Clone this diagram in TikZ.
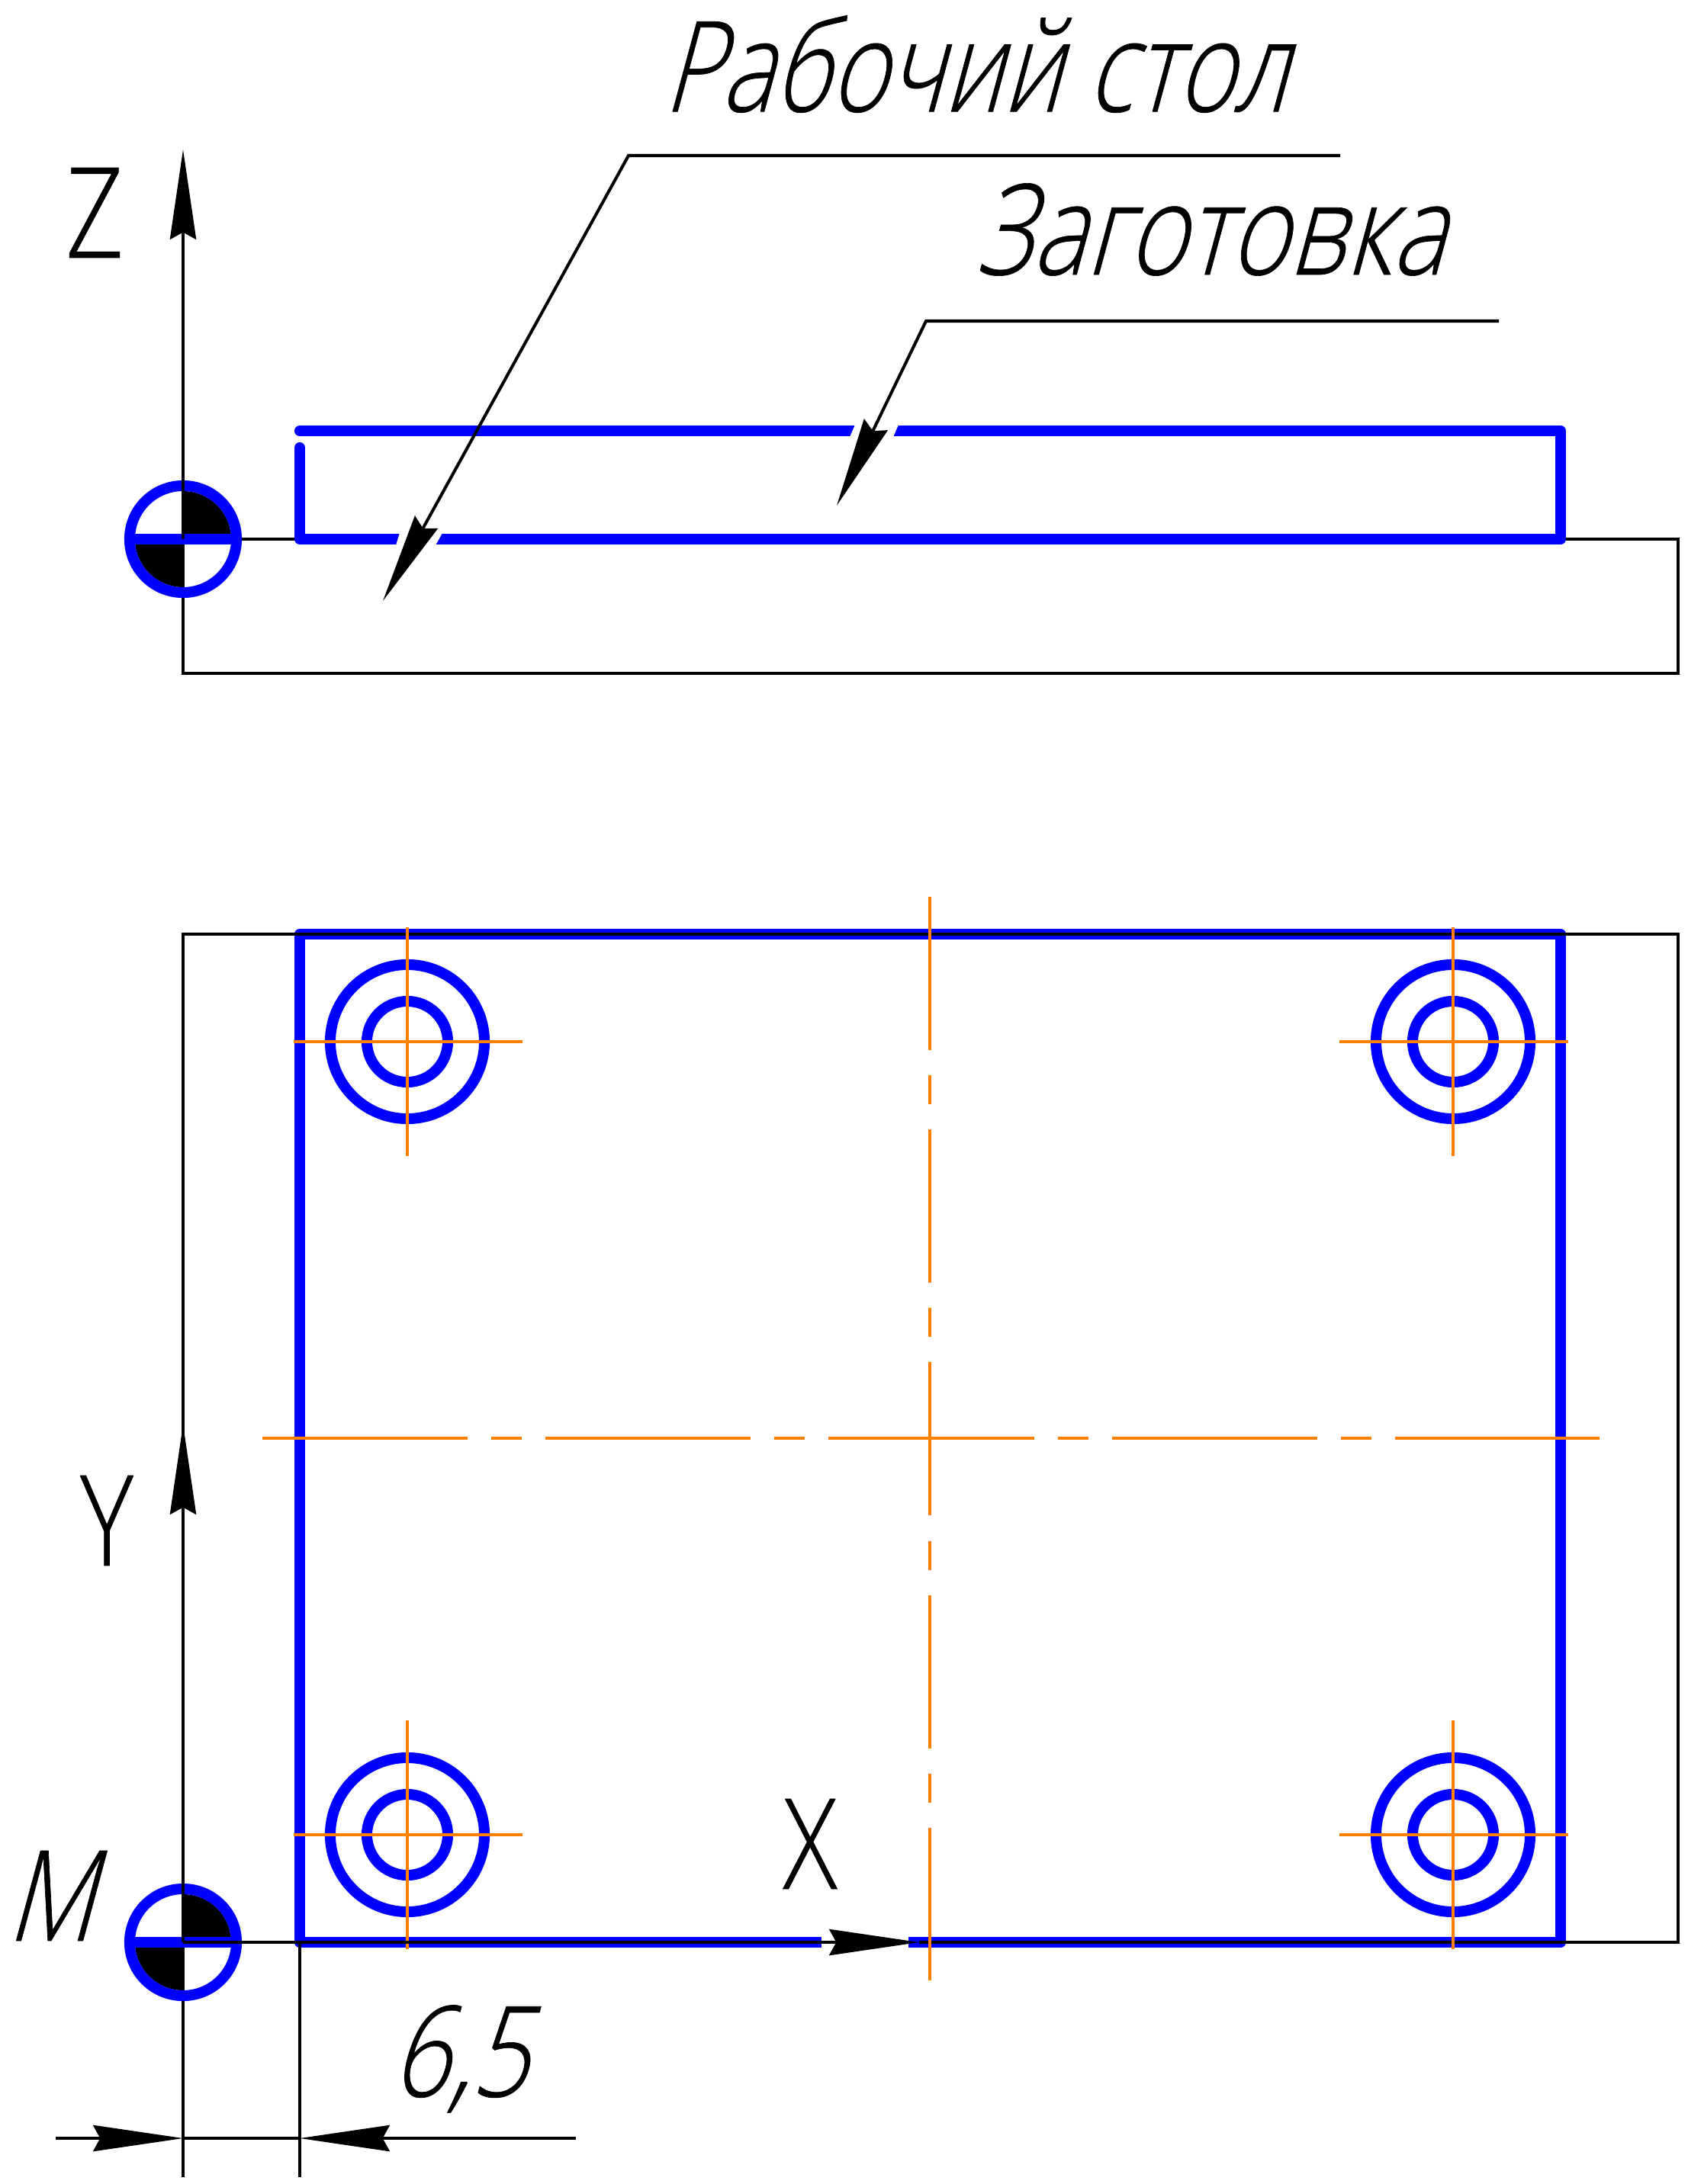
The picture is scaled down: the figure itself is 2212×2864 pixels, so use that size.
\documentclass[tikz,border=0pt]{standalone}
\usepackage{fontspec}
\usetikzlibrary{arrows.meta}
\newfontfamily\gostfont[FakeStretch=0.8,FakeBold=0.4]{Open Sans Light}
\newfontfamily\gostslant[FakeStretch=0.8,FakeSlant=0.27,FakeBold=0.4]{Open Sans Light}
\newfontfamily\gosttable[FakeStretch=0.78,FakeSlant=0.27,FakeBold=0.4]{Open Sans Light}
\definecolor{axisorange}{rgb}{1.0,0.5,0.0}
\tikzset{
  thinline/.style={line width=1.14pt,black},
  partline/.style={line width=4pt,blue},
  holeline/.style={line width=4pt,blue},
  centreline/.style={line width=1.1pt,axisorange},
  headline/.style={thinline,-{Stealth[length=33.5pt,width=9.7pt,inset=2.6pt]}},
  label/.style={inner sep=0pt,font=\gostfont\fontsize{47}{47}\selectfont},
  slantlabel/.style={inner sep=0pt,font=\gostslant\fontsize{47}{47}\selectfont},
}
\begin{document}
\begin{tikzpicture}[x=0.01cm,y=-0.01cm]
    \useasboundingbox (0,0) rectangle (2212,2864);
    \coordinate (topO) at (240,707);
    \coordinate (planO) at (240,2547);
    % top view
    \draw[thinline] (topO)--(2200,707)--(2200,883)--(240,883)--(topO);
    \draw[partline,line cap=round,line join=round] (393,565)--(2046,565)--(2046,707)--(393,707)--(393,587);
    \fill[white] (524,699)--(580,699)--(571,715)--(519,715)--cycle;
    \fill[white] (1121,557)--(1178,557)--(1171,573)--(1114,573)--cycle;
    \coordinate (tableEnd) at (1757,204);
    \coordinate (tableKnee) at (824,204);
    \coordinate (tableTip) at (502,788);
    \coordinate (blankEnd) at (1965,421);
    \coordinate (blankKnee) at (1214,421);
    \coordinate (blankTip) at (1097,663);
    \draw[headline] (tableEnd)--(tableKnee)--(tableTip);
    \draw[headline] (blankEnd)--(blankKnee)--(blankTip);
    % plan view
    \draw[partline,line join=round] (1077,2547)--(393,2547)--(393,1225)--(2046,1225)--(2046,2547)--(1191,2547);
    \draw[thinline] (240,2855)--(240,1225)--(2200,1225)--(2200,2547)--(1205,2547);
    \foreach \hx/\hy in {534/1366,1905/1366,534/2406,1905/2406}{
        \draw[holeline] (\hx,\hy) circle[radius=1.01cm];
        \draw[holeline] (\hx,\hy) circle[radius=0.53cm];
        \draw[centreline] (\hx-149,\hy)--(\hx+151,\hy);
        \draw[centreline] (\hx,\hy-150)--(\hx,\hy+150);
    }
    \draw[centreline,dash pattern=on 2.69cm off 0.31cm on 0.40cm off 0.31cm] (344,1886)--(2097,1886);
    \draw[centreline,dash pattern=on 2.01cm off 0.33cm on 0.38cm off 0.33cm] (1219,1176)--(1219,2597);
    % machine zero marks
    \foreach \ox/\oy in {240/707,240/2547}{
        \fill (\ox,\oy) -- ++(0,-63) arc[start angle=90,end angle=0,radius=0.63cm] -- cycle;
        \fill (\ox,\oy) -- ++(0,63) arc[start angle=270,end angle=180,radius=0.63cm] -- cycle;
        \draw[holeline] (\ox,\oy) circle[radius=0.70cm];
        \draw[partline] (\ox-76,\oy)--(\ox+70,\oy);
    }
    \draw[headline] (topO)--(240,196);
    \draw[headline] (planO)--(1205,2547);
    \draw[headline] (planO)--(240,1868);
    \draw[thinline] (393,2547)--(393,2855);
    % dimension
    \coordinate (dimLeft) at (73,2804);
    \coordinate (dimA) at (240,2804);
    \coordinate (dimB) at (393,2804);
    \coordinate (dimRight) at (755,2804);
    \draw[headline] (dimLeft)--(dimA);
    \draw[thinline] (dimA)--(dimB);
    \draw[headline] (dimRight)--(dimB);
    % labels
    \node[slantlabel,font=\gosttable\fontsize{47}{47}\selectfont] (tableText) at (1278,84) {Рабочий стол};
    \node[slantlabel] (blankText) at (1586,301) {Заготовка};
    \node[label] (zText) at (124,279) {Z};
    \node[label] (yText) at (140,1994) {Y};
    \node[label] (xText) at (1062,2418) {X};
    \node[slantlabel] (mText) at (65,2486) {M};
    \node[slantlabel] (dimText) at (602,2700) {6,5};
\end{tikzpicture}
\end{document}
